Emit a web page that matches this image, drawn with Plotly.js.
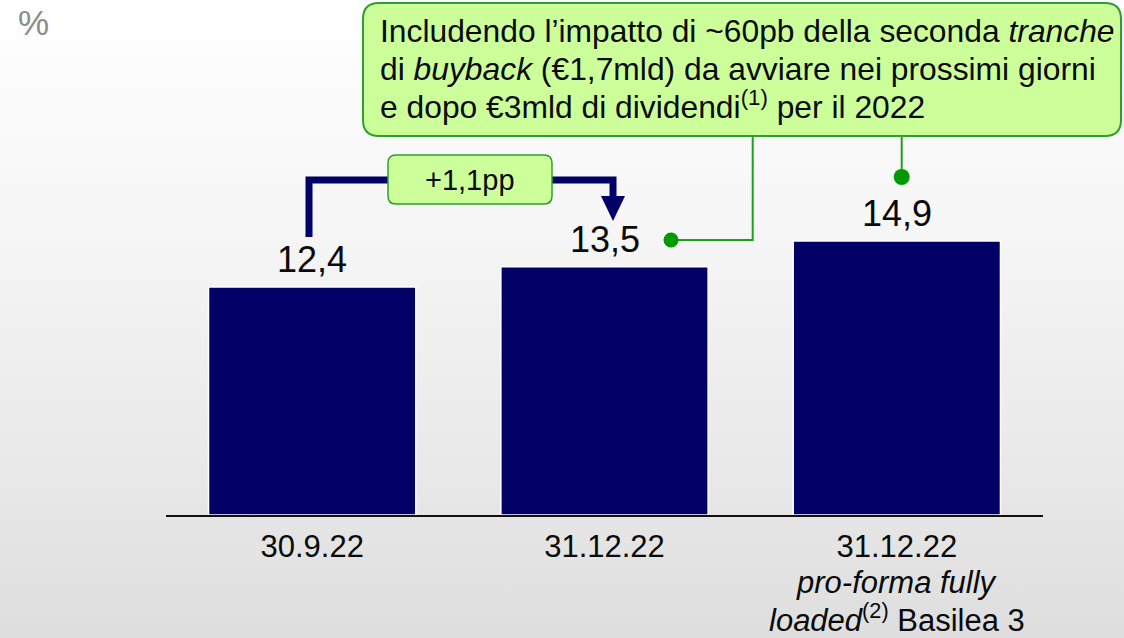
<!DOCTYPE html>
<html>
<head>
<meta charset="utf-8">
<script src="https://cdn.plot.ly/plotly-3.0.1.min.js"></script>
<style>
  html, body { margin: 0; padding: 0; }
  body { width: 1124px; height: 638px; overflow: hidden;
         background: linear-gradient(to bottom, #ffffff 0%, #f6f6f6 35%, #e8e8e8 75%, #dedede 100%); }
  #chart { width: 1124px; height: 638px; }
</style>
</head>
<body>
<div id="chart"></div>
<script>
// ---- data ----
const categories = ['30.9.22', '31.12.22', '31.12.22 pro-forma'];
const tickLabels = ['30.9.22', '31.12.22', '31.12.22'];
const subLabelLines = ['<i>pro-forma fully</i>', '<i>loaded</i><sup>(2)</sup> Basilea 3'];
const values = [12.4, 13.5, 14.9];
const valueLabels = ['12,4', '13,5', '14,9'];
const deltaLabel = '+1,1pp';
const calloutLines = [
  'Includendo l\u2019impatto di ~60pb della seconda <i>tranche</i>',
  'di <i>buyback</i> (\u20ac1,7mld) da avviare nei prossimi giorni',
  'e dopo \u20ac3mld di dividendi<sup>(1)</sup> per il 2022'
];
const unitLabel = '%';

// ---- layout helpers (pixel -> paper) ----
const L = 166, R = 1043, T = 0, B = 515;
const W = 1124, H = 638;
function px(x) { return (x - L) / (R - L); }
function py(y) { return (B - y) / (B - T); }
function P(x, y) { return px(x).toFixed(5) + ',' + py(y).toFixed(5); }
function rrect(x0, y0, x1, y1, r) {
  return 'M' + P(x0 + r, y0) + ' L' + P(x1 - r, y0) + ' Q' + P(x1, y0) + ' ' + P(x1, y0 + r) +
         ' L' + P(x1, y1 - r) + ' Q' + P(x1, y1) + ' ' + P(x1 - r, y1) +
         ' L' + P(x0 + r, y1) + ' Q' + P(x0, y1) + ' ' + P(x0, y1 - r) +
         ' L' + P(x0, y0 + r) + ' Q' + P(x0, y0) + ' ' + P(x0 + r, y0) + ' Z';
}

const NAVY = '#000066';
const GREEN_FILL = '#ccff99';
const GREEN_LINE = '#2f9e2f';
const DOT = '#009900';
const FONT = 'Liberation Sans, Arial, sans-serif';

const trace = {
  type: 'bar',
  x: categories,
  y: values,
  width: 0.709,
  marker: { color: NAVY, line: { color: '#ffffff', width: 1.5 } },
  hoverinfo: 'skip'
};

const annotations = [];
values.forEach((v, i) => {
  annotations.push({
    x: categories[i], y: v, xref: 'x', yref: 'y',
    text: valueLabels[i], showarrow: false,
    xanchor: 'center', yanchor: 'middle', yshift: 27,
    font: { family: FONT, size: 36, color: '#0a0a0a' }
  });
});
subLabelLines.forEach((t, k) => {
  annotations.push({
    x: categories[2], xref: 'x', y: py(582 + 36 * k), yref: 'paper',
    text: t, showarrow: false, xanchor: 'center', yanchor: 'middle', borderpad: 0,
    font: { family: FONT, size: 31, color: '#0a0a0a' }
  });
});
calloutLines.forEach((t, k) => {
  annotations.push({
    x: px(378), xref: 'paper', y: py(31.5 + 37 * k), yref: 'paper',
    text: t, showarrow: false, xanchor: 'left', yanchor: 'middle',
    font: { family: FONT, size: 31.8, color: '#0a0a0a' }
  });
});
annotations.push({
  x: px(470), xref: 'paper', y: py(180), yref: 'paper',
  text: deltaLabel, showarrow: false, xanchor: 'center', yanchor: 'middle',
  font: { family: FONT, size: 29, color: '#0a0a0a' }
});
annotations.push({
  x: px(33), xref: 'paper', y: py(22), yref: 'paper',
  text: unitLabel, showarrow: false, xanchor: 'center', yanchor: 'middle',
  font: { family: FONT, size: 35, color: '#8c8c8c' }
});

const shapes = [
  // callout box
  { type: 'path', xref: 'paper', yref: 'paper', layer: 'above',
    path: rrect(363, 3, 1121, 136, 16), fillcolor: GREEN_FILL, line: { color: GREEN_LINE, width: 2 } },
  // connectors
  { type: 'path', xref: 'paper', yref: 'paper', layer: 'above',
    path: 'M' + P(752.7, 137) + ' L' + P(752.7, 240) + ' L' + P(671, 240),
    line: { color: '#1f9f1f', width: 2 } },
  { type: 'path', xref: 'paper', yref: 'paper', layer: 'above',
    path: 'M' + P(901.7, 137) + ' L' + P(901.7, 177),
    line: { color: '#1f9f1f', width: 2 } },
  { type: 'circle', xref: 'paper', yref: 'paper', layer: 'above',
    x0: px(671 - 7.5), x1: px(671 + 7.5), y0: py(240 + 7.5), y1: py(240 - 7.5),
    fillcolor: DOT, line: { width: 0 } },
  { type: 'circle', xref: 'paper', yref: 'paper', layer: 'above',
    x0: px(901.7 - 8), x1: px(901.7 + 8), y0: py(177 + 8), y1: py(177 - 8),
    fillcolor: DOT, line: { width: 0 } },
  // delta arrow
  { type: 'path', xref: 'paper', yref: 'paper', layer: 'above',
    path: 'M' + P(309, 237) + ' L' + P(309, 180) + ' L' + P(613, 180) + ' L' + P(613, 198),
    line: { color: NAVY, width: 7 } },
  { type: 'path', xref: 'paper', yref: 'paper', layer: 'above',
    path: 'M' + P(601, 196) + ' L' + P(625, 196) + ' L' + P(613, 221) + ' Z',
    fillcolor: NAVY, line: { width: 0 } },
  // delta box
  { type: 'path', xref: 'paper', yref: 'paper', layer: 'above',
    path: rrect(388, 155, 552, 204, 8), fillcolor: GREEN_FILL, line: { color: GREEN_LINE, width: 1.5 } }
];

const layout = {
  width: W, height: H,
  margin: { l: L, r: W - R, t: T, b: H - B, pad: 0 },
  paper_bgcolor: 'rgba(0,0,0,0)',
  plot_bgcolor: 'rgba(0,0,0,0)',
  showlegend: false,
  bargap: 0.29,
  xaxis: {
    type: 'category',
    range: [-0.5, 2.5],
    tickvals: categories,
    ticktext: tickLabels,
    ticks: '',
    showline: true, linecolor: '#111111', linewidth: 2,
    showgrid: false, zeroline: false,
    ticklabelstandoff: 3,
    tickfont: { family: FONT, size: 31, color: '#0a0a0a' },
    fixedrange: true
  },
  yaxis: {
    range: [0, 28.0],
    visible: false, showgrid: false, zeroline: false, fixedrange: true
  },
  annotations: annotations,
  shapes: shapes
};

Plotly.newPlot('chart', [trace], layout, { displayModeBar: false, staticPlot: true });
</script>
</body>
</html>
